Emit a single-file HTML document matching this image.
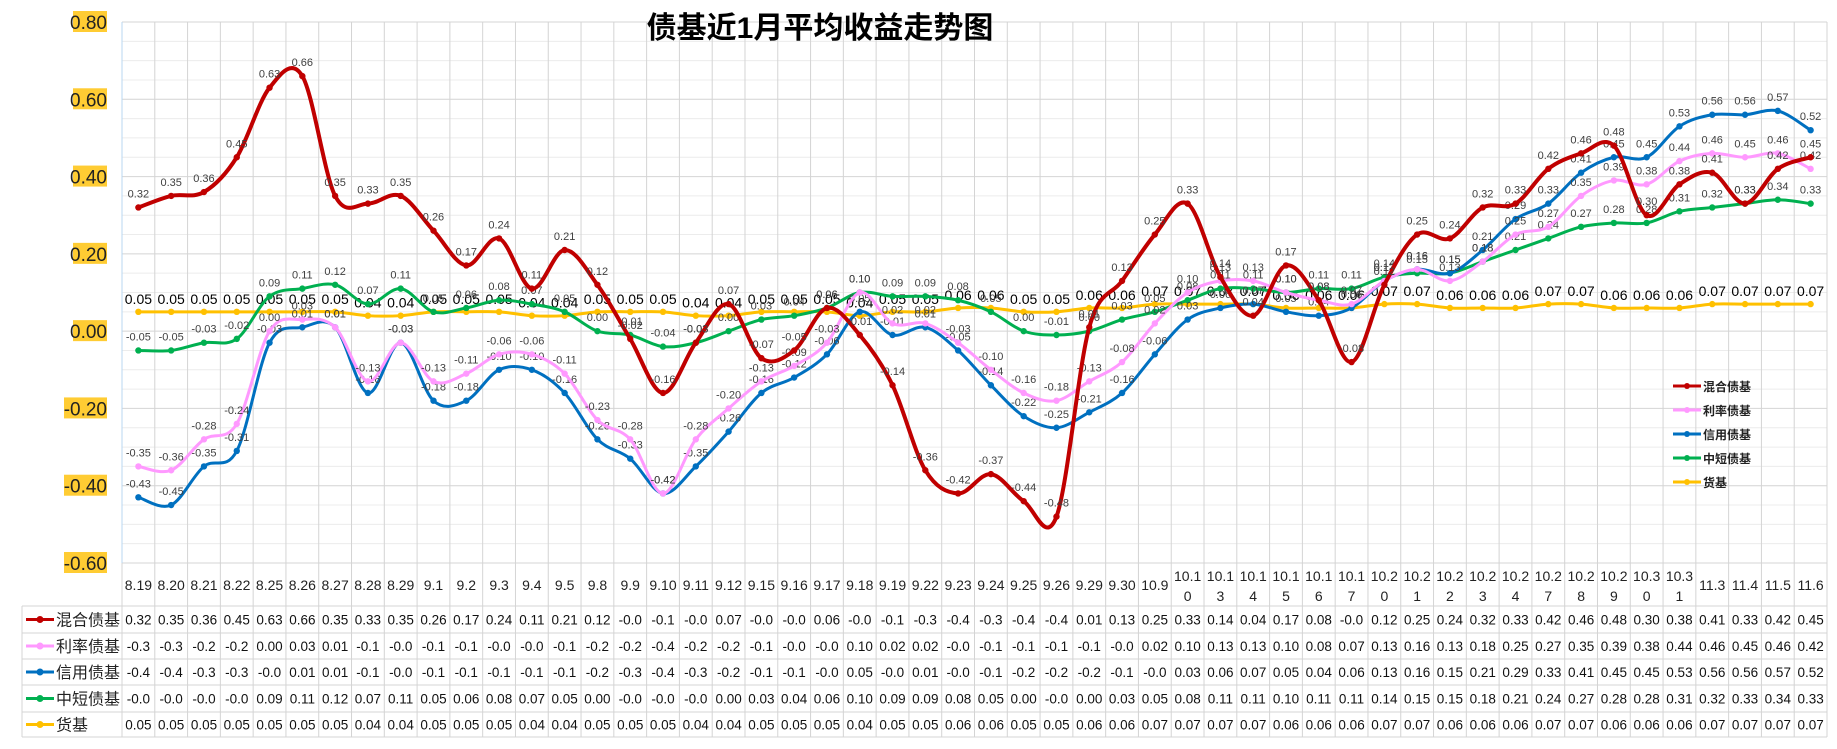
<!DOCTYPE html>
<html><head><meta charset="utf-8"><style>
body{margin:0;background:#fff;width:1837px;height:744px;overflow:hidden;font-family:"Liberation Sans","Noto Sans CJK SC",sans-serif}
</style></head><body>
<svg id="c" width="1837" height="744" xmlns="http://www.w3.org/2000/svg" font-family="Liberation Sans, Noto Sans CJK SC, sans-serif"></svg>
<script>
const categories=["8.19","8.20","8.21","8.22","8.25","8.26","8.27","8.28","8.29","9.1","9.2","9.3","9.4","9.5","9.8","9.9","9.10","9.11","9.12","9.15","9.16","9.17","9.18","9.19","9.22","9.23","9.24","9.25","9.26","9.29","9.30","10.9","10.10","10.13","10.14","10.15","10.16","10.17","10.20","10.21","10.22","10.23","10.24","10.27","10.28","10.29","10.30","10.31","11.3","11.4","11.5","11.6"];
const seriesNames=["混合债基","利率债基","信用债基","中短债基","货基"];
const seriesColors=["#C00000","#FF99FF","#0070C0","#00B050","#FFC000"];
const hunhe=[0.32,0.35,0.36,0.45,0.63,0.66,0.35,0.33,0.35,0.26,0.17,0.24,0.11,0.21,0.12,-0.02,-0.16,-0.03,0.07,-0.07,-0.05,0.06,-0.01,-0.14,-0.36,-0.42,-0.37,-0.44,-0.48,0.01,0.13,0.25,0.33,0.14,0.04,0.17,0.08,-0.08,0.12,0.25,0.24,0.32,0.33,0.42,0.46,0.48,0.30,0.38,0.41,0.33,0.42,0.45];
const lilv=[-0.35,-0.36,-0.28,-0.24,0.00,0.03,0.01,-0.13,-0.03,-0.13,-0.11,-0.06,-0.06,-0.11,-0.23,-0.28,-0.42,-0.28,-0.20,-0.13,-0.09,-0.03,0.10,0.02,0.02,-0.03,-0.10,-0.16,-0.18,-0.13,-0.08,0.02,0.10,0.13,0.13,0.10,0.08,0.07,0.13,0.16,0.13,0.18,0.25,0.27,0.35,0.39,0.38,0.44,0.46,0.45,0.46,0.42];
const xinyong=[-0.43,-0.45,-0.35,-0.31,-0.03,0.01,0.01,-0.16,-0.03,-0.18,-0.18,-0.10,-0.10,-0.16,-0.28,-0.33,-0.42,-0.35,-0.26,-0.16,-0.12,-0.06,0.05,-0.01,0.01,-0.05,-0.14,-0.22,-0.25,-0.21,-0.16,-0.06,0.03,0.06,0.07,0.05,0.04,0.06,0.13,0.16,0.15,0.21,0.29,0.33,0.41,0.45,0.45,0.53,0.56,0.56,0.57,0.52];
const zhongduan=[-0.05,-0.05,-0.03,-0.02,0.09,0.11,0.12,0.07,0.11,0.05,0.06,0.08,0.07,0.05,0.00,-0.01,-0.04,-0.03,0.00,0.03,0.04,0.06,0.10,0.09,0.09,0.08,0.05,0.00,-0.01,0.00,0.03,0.05,0.08,0.11,0.11,0.10,0.11,0.11,0.14,0.15,0.15,0.18,0.21,0.24,0.27,0.28,0.28,0.31,0.32,0.33,0.34,0.33];
const huoji=[0.05,0.05,0.05,0.05,0.05,0.05,0.05,0.04,0.04,0.05,0.05,0.05,0.04,0.04,0.05,0.05,0.05,0.04,0.04,0.05,0.05,0.05,0.04,0.05,0.05,0.06,0.06,0.05,0.05,0.06,0.06,0.07,0.07,0.07,0.07,0.06,0.06,0.06,0.07,0.07,0.06,0.06,0.06,0.07,0.07,0.06,0.06,0.06,0.07,0.07,0.07,0.07];
const yTicks=["0.80","0.60","0.40","0.20","0.00","-0.20","-0.40","-0.60"];
const allSeries=[hunhe,lilv,xinyong,zhongduan,huoji];

const svg=document.getElementById('c');const NS="http://www.w3.org/2000/svg";
function mk(t,a,p){const e=document.createElementNS(NS,t);for(const k in a)e.setAttribute(k,a[k]);(p||svg).appendChild(e);return e;}
const L=122,R=1827,T=22,B=563;const n=categories.length;const cw=(R-L)/n;
const yMin=-0.6,yMax=0.8;
function y(v){return B-(v-yMin)/(yMax-yMin)*(B-T);}
function x(i){return L+cw*(i+0.5);}
// grid
for(let k=0;k<=28;k++){const v=yMin+k*0.05;const major=k%4==0;
 const g=mk('line',{x1:L,x2:R,y1:y(v),y2:y(v),stroke:major?'#d4d4d4':'#ececec','stroke-width':1});
 }
for(let i=0;i<=n;i++){const g=mk('line',{x1:L+cw*i,x2:L+cw*i,y1:T,y2:737,stroke:'#d4d4d4','stroke-width':1});
 }
mk('line',{x1:L,x2:L,y1:T,y2:B,stroke:'#b9d7f0'});
// table borders
const rowY=[606,633,659,685,712,737];
for(const ry of rowY){const l=mk('line',{x1:22,x2:R,y1:ry,y2:ry,stroke:'#d4d4d4'});}
mk('line',{x1:22,x2:22,y1:606,y2:737,stroke:'#d4d4d4'});
mk('line',{x1:R,x2:R,y1:T,y2:737,stroke:'#d4d4d4'});
// y ticks
yTicks.forEach(t=>{const v=parseFloat(t);const yy=y(v);
 const r=mk('rect',{x:t[0]=='-'?64:73,y:yy-11,width:t[0]=='-'?43:34,height:21,fill:'#FFCC33'});
 
 const tx=mk('text',{x:107,y:yy+7,'text-anchor':'end','font-size':19,fill:'#222'});tx.textContent=t;
 });
// title
const ti=mk('text',{x:820,y:38,'text-anchor':'middle','font-size':30,'font-weight':'bold',fill:'#000'});ti.textContent='债基近1月平均收益走势图';

// dates
categories.forEach((c,i)=>{
 if(c.length>4){[c.slice(0,4),c.slice(4)].forEach((s,j)=>{const t=mk('text',{x:x(i),y:581+j*20,'text-anchor':'middle','font-size':14,fill:'#222'});t.textContent=s;});}
 else{const t=mk('text',{x:x(i),y:590,'text-anchor':'middle','font-size':14,fill:'#222'});t.textContent=c;}
});
function path(vals){let d='M'+x(0)+','+y(vals[0]);
 for(let i=0;i<vals.length-1;i++){const p0=[x(Math.max(0,i-1)),y(vals[Math.max(0,i-1)])],p1=[x(i),y(vals[i])],p2=[x(i+1),y(vals[i+1])],p3=[x(Math.min(vals.length-1,i+2)),y(vals[Math.min(vals.length-1,i+2)])];
  const c1=[p1[0]+(p2[0]-p0[0])/6,p1[1]+(p2[1]-p0[1])/6],c2=[p2[0]-(p3[0]-p1[0])/6,p2[1]-(p3[1]-p1[1])/6];
  d+=` C${c1[0]},${c1[1]} ${c2[0]},${c2[1]} ${p2[0]},${p2[1]}`;}
 return d;}
const widths=[4,3,3,3,3];
const order=[4,3,2,1,0];
order.forEach(s=>{const vals=allSeries[s];const col=seriesColors[s];
 const p=mk('path',{d:path(vals),fill:'none',stroke:col,'stroke-width':widths[s]});
 
 vals.forEach((v,i)=>{const m=mk('circle',{cx:x(i),cy:y(v),r:3.2,fill:col});
  const big=s==4;const t=mk('text',{x:x(i),y:big?y(v)-8:y(v)-10,'text-anchor':'middle','font-size':big?14:11,fill:big?'#000':'#404040'});
  t.textContent=v.toFixed(2);});
});
// table
seriesNames.forEach((nm,s)=>{const cy=(rowY[s]+rowY[s+1])/2;
 mk('line',{x1:26,x2:54,y1:cy,y2:cy,stroke:seriesColors[s],'stroke-width':3});
 mk('circle',{cx:40,cy:cy,r:3.5,fill:seriesColors[s]});
 const t=mk('text',{x:56,y:cy+6,'font-size':16,fill:'#222'});t.textContent=nm;
 allSeries[s].forEach((v,i)=>{const c=mk('text',{x:x(i),y:cy+5,'text-anchor':'middle','font-size':13.5,fill:'#111'});c.textContent=v.toFixed(2).slice(0,4);
  });
});
// legend
seriesNames.forEach((nm,s)=>{const ly=386+s*24;
 const g=mk('g',{});
 mk('line',{x1:1673,x2:1701,y1:ly,y2:ly,stroke:seriesColors[s],'stroke-width':3},g);
 mk('circle',{cx:1687,cy:ly,r:3,fill:seriesColors[s]},g);
 const t=mk('text',{x:1703,y:ly+5,'font-size':12,'font-weight':'bold',fill:'#222'},g);t.textContent=nm;});
</script>
</body></html>
